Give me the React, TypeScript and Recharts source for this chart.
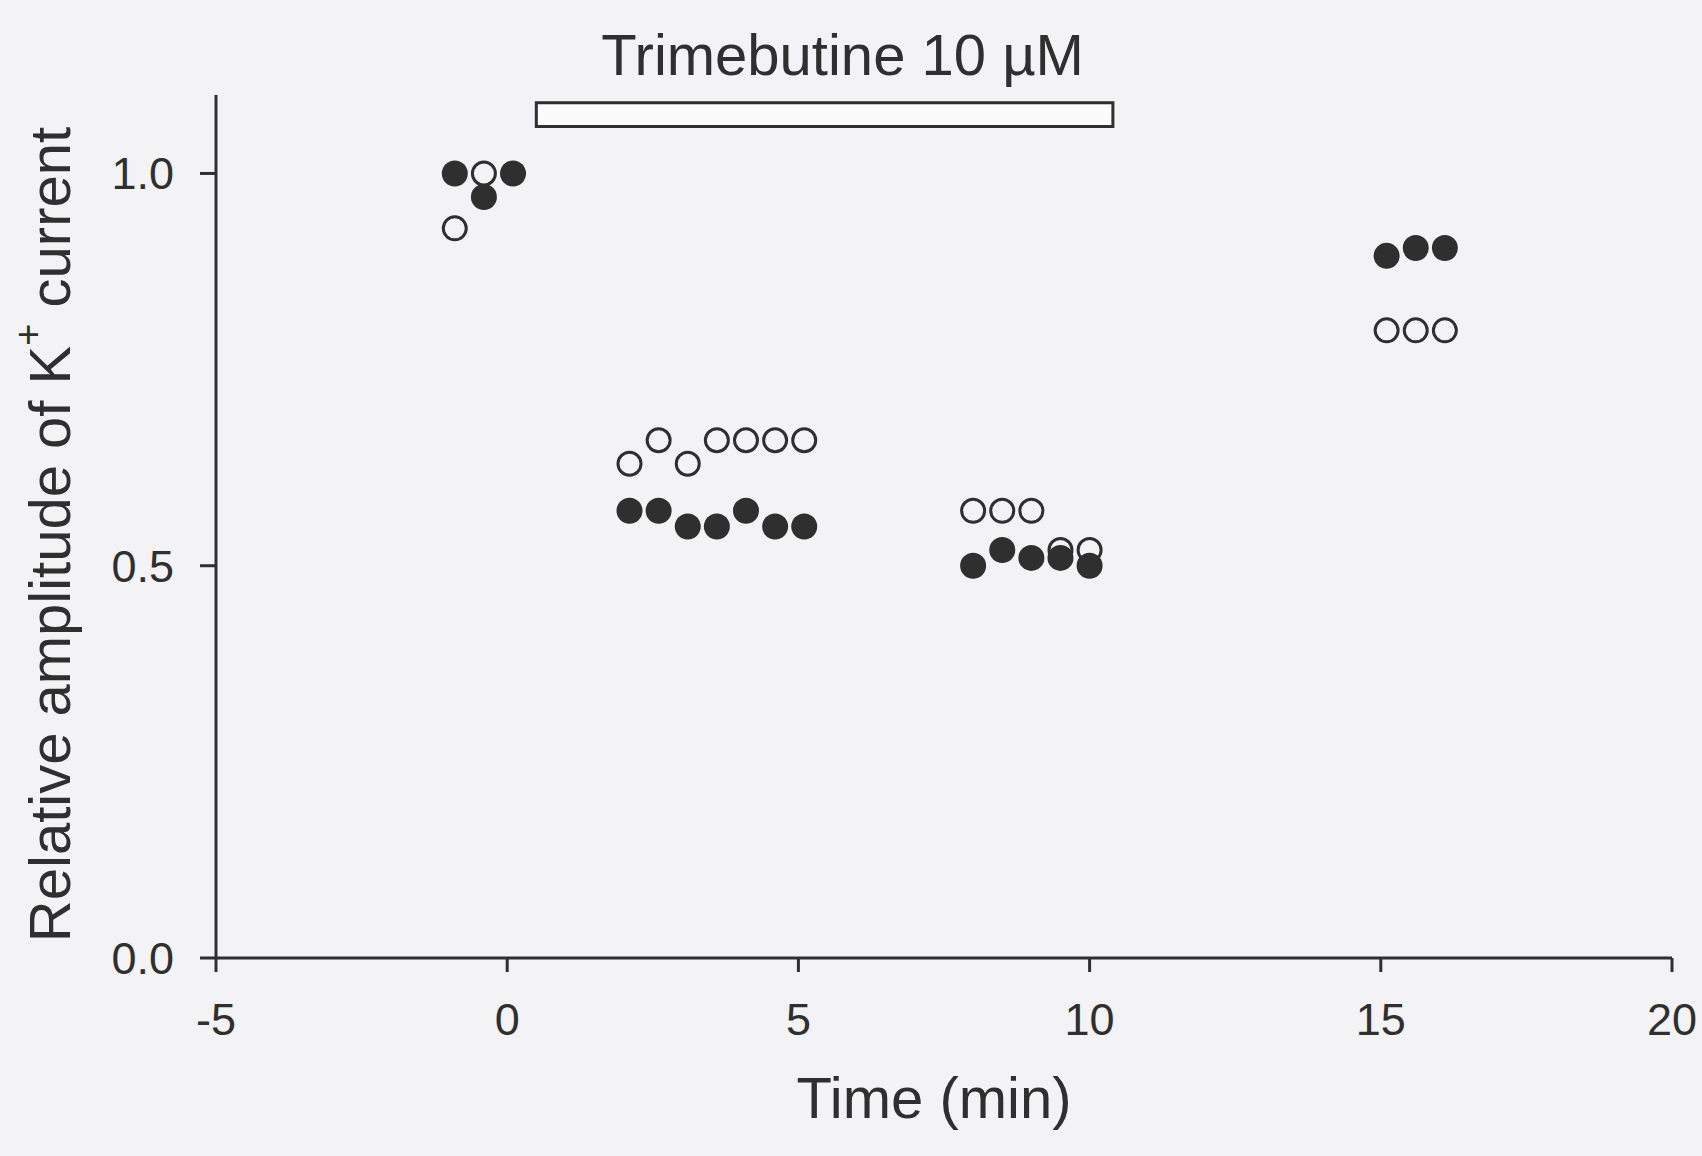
import { ScatterChart, Scatter, XAxis, YAxis, ReferenceArea, Label } from 'recharts'

const INK = '#2f2f2f'
const PAPER = '#f3f2f4'
const FONT = '"Liberation Sans", Arial, sans-serif'

// time (min) / relative amplitude, filled circles
const filledTime = [-0.9, -0.4, 0.1, 2.1, 2.6, 3.1, 3.6, 4.1, 4.6, 5.1, 8.0, 8.5, 9.0, 9.5, 10.0, 15.1, 15.6, 16.1]
const filledAmp = [1.0, 0.97, 1.0, 0.57, 0.57, 0.55, 0.55, 0.57, 0.55, 0.55, 0.5, 0.52, 0.51, 0.51, 0.5, 0.895, 0.905, 0.905]

// open circles
const openTime = [-0.9, -0.4, 2.1, 2.6, 3.1, 3.6, 4.1, 4.6, 5.1, 8.0, 8.5, 9.0, 9.5, 10.0, 15.1, 15.6, 16.1]
const openAmp = [0.93, 1.0, 0.63, 0.66, 0.63, 0.66, 0.66, 0.66, 0.66, 0.57, 0.57, 0.57, 0.52, 0.52, 0.8, 0.8, 0.8]

const xTicks = [-5, 0, 5, 10, 15, 20]
const yTicks = [0, 0.5, 1.0]

// drug application bar
const drugStart = 0.5
const drugEnd = 10.4
const drugLabel = 'Trimebutine 10 \u00b5M'

const filled = filledTime.map((t, i) => ({ t, v: filledAmp[i] }))
const open = openTime.map((t, i) => ({ t, v: openAmp[i] }))

const FilledDot = (p: any) => <circle cx={p.cx} cy={p.cy} r={13} fill={INK} />
const OpenDot = (p: any) => (
  <circle cx={p.cx} cy={p.cy} r={11.5} fill={PAPER} stroke={INK} strokeWidth={3} />
)

const YTitle = ({ viewBox }: any) => {
  const x = viewBox.x + 23
  const y = viewBox.y + viewBox.height / 2 + 8
  return (
    <text
      x={x}
      y={y}
      transform={`rotate(-90, ${x}, ${y})`}
      textAnchor="middle"
      dominantBaseline="central"
      fontSize={58}
      fill={INK}
      fontFamily={FONT}
    >
      Relative amplitude of K
      <tspan fontSize={38} dy={-21}>+</tspan>
      <tspan dy={21}> current</tspan>
    </text>
  )
}

export default function App() {
  return (
    <div style={{ position: 'absolute', left: 0, top: 0, background: PAPER, fontFamily: FONT }}>
      <ScatterChart width={1702} height={1156} margin={{ top: 95, right: 30, bottom: 18, left: 26 }}>
        <XAxis
          type="number"
          dataKey="t"
          domain={[-5, 20]}
          ticks={xTicks}
          stroke={INK}
          strokeWidth={3}
          tickSize={14}
          tickMargin={31}
          height={180}
          tick={{ fontSize: 45, fill: INK, fontFamily: FONT }}
        >
          <Label
            value="Time (min)"
            position="insideBottom"
            offset={20}
            dx={-10}
            fontSize={58}
            fill={INK}
            fontFamily={FONT}
          />
        </XAxis>
        <YAxis
          type="number"
          dataKey="v"
          domain={[0, 1.1]}
          ticks={yTicks}
          tickFormatter={(v: number) => v.toFixed(1)}
          stroke={INK}
          strokeWidth={3}
          tickSize={16}
          tickMargin={26}
          width={190}
          tick={{ fontSize: 45, fill: INK, fontFamily: FONT }}
          label={<YTitle />}
        />
        <ReferenceArea
          x1={drugStart}
          x2={drugEnd}
          y1={1.06}
          y2={1.09}
          fill="#fbfbfb"
          fillOpacity={1}
          stroke={INK}
          strokeWidth={3}
          label={{ value: drugLabel, position: 'top', offset: 28, dx: 18, fontSize: 58, fill: INK, fontFamily: FONT }}
        />
        <Scatter data={open} shape={OpenDot} isAnimationActive={false} />
        <Scatter data={filled} shape={FilledDot} isAnimationActive={false} />
      </ScatterChart>
    </div>
  )
}
